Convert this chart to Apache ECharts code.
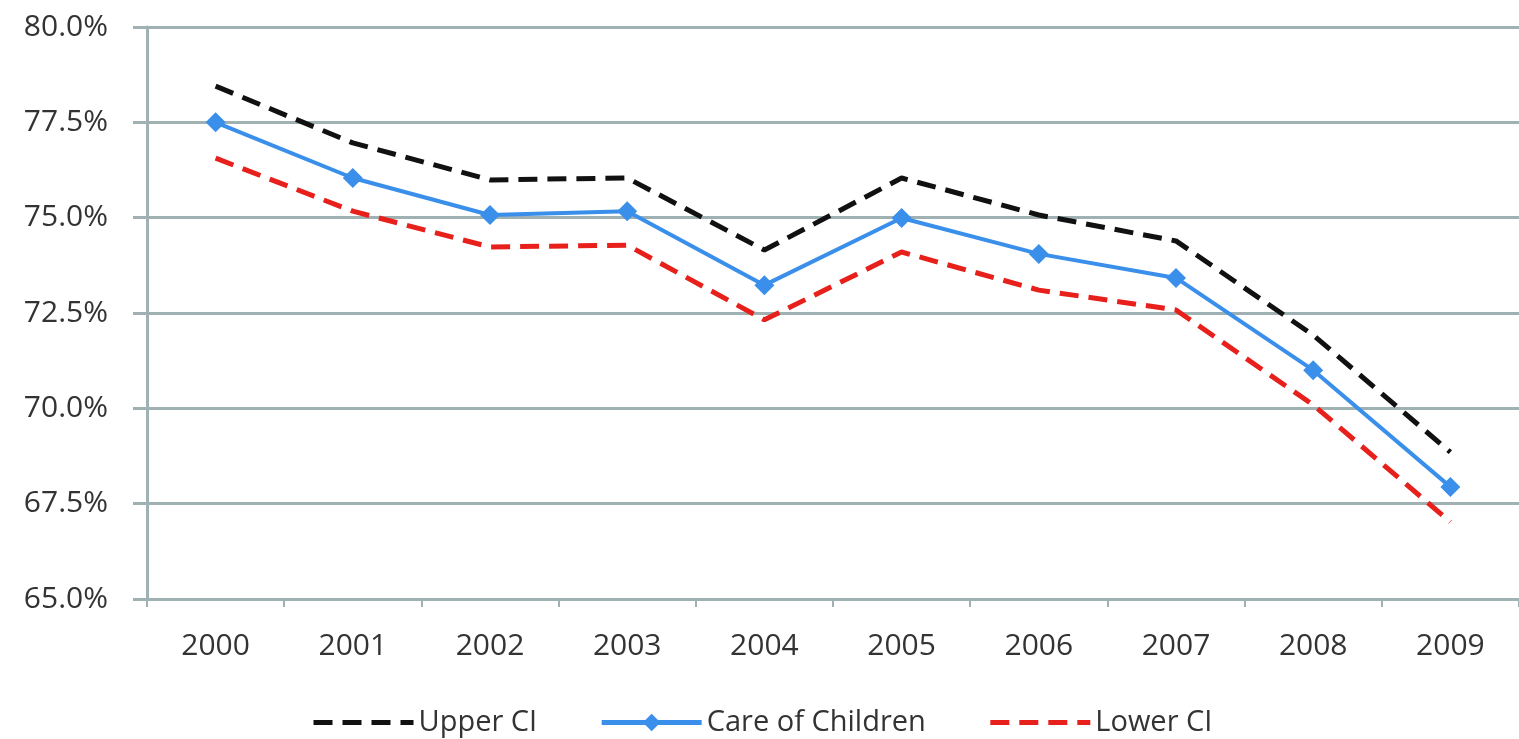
<!DOCTYPE html>
<html>
<head>
<meta charset="utf-8">
<script src="https://cdn.jsdelivr.net/npm/echarts@6/dist/echarts.min.js"></script>
<style>
html,body{margin:0;padding:0;background:#fff;}
#c{width:1519px;height:739px;}
</style>
</head>
<body>
<div id="c"></div>
<script>
const years = ['2000','2001','2002','2003','2004','2005','2006','2007','2008','2009'];
const upperCI = [78.45, 76.96, 75.99, 76.04, 74.15, 76.04, 75.07, 74.39, 71.92, 68.85];
const careOfChildren = [77.5, 76.04, 75.07, 75.17, 73.23, 74.99, 74.05, 73.42, 71.0, 67.94];
const lowerCI = [76.56, 75.17, 74.23, 74.28, 72.32, 74.1, 73.1, 72.58, 70.09, 67.02];

const gridColor = '#9fb1b3';
const fontFam = '"Open Sans", "Liberation Sans", sans-serif';
const chart = echarts.init(document.getElementById('c'));
chart.setOption({
  animation: false,
  backgroundColor: '#ffffff',
  grid: { left: 147, top: 27, width: 1383, bottom: 140, containLabel: false },
  legend: {
    left: 306, top: 703,
    itemWidth: 100, itemHeight: 22, itemGap: 62,
    lineStyle: { width: 5 },
    textStyle: { fontFamily: fontFam, fontSize: 29, color: '#333' },
    data: [
      { name: 'Upper CI', itemStyle: { opacity: 0 } },
      { name: 'Care of Children' },
      { name: 'Lower CI', itemStyle: { opacity: 0 } }
    ]
  },
  xAxis: {
    type: 'category',
    data: years,
    boundaryGap: true,
    axisLine: { show: true, lineStyle: { color: gridColor, width: 3 } },
    axisTick: { show: true, length: 8, lineStyle: { color: gridColor, width: 2 } },
    axisLabel: { margin: 32, fontFamily: fontFam, fontSize: 30, color: '#333' }
  },
  yAxis: {
    type: 'value',
    min: 65, max: 80, interval: 2.5,
    axisLine: { show: true, lineStyle: { color: gridColor, width: 3 } },
    axisTick: { show: true, inside: false, length: 14, lineStyle: { color: gridColor, width: 3 } },
    splitLine: { show: true, lineStyle: { color: gridColor, width: 3 } },
    axisLabel: {
      margin: 39, fontFamily: fontFam, fontSize: 30, color: '#333',
      formatter: v => v.toFixed(1) + '%'
    }
  },
  series: [
    {
      name: 'Upper CI', type: 'line', data: upperCI,
      symbol: 'none',
      lineStyle: { color: '#111111', width: 5, type: [19, 10] },
      itemStyle: { color: '#111111' }
    },
    {
      name: 'Care of Children', type: 'line', data: careOfChildren,
      symbol: 'diamond', symbolSize: 20,
      lineStyle: { color: '#3a8fea', width: 4 },
      itemStyle: { color: '#3a8fea' }
    },
    {
      name: 'Lower CI', type: 'line', data: lowerCI,
      symbol: 'none',
      lineStyle: { color: '#e8201b', width: 5, type: [19, 10] },
      itemStyle: { color: '#e8201b' }
    }
  ]
});
</script>
</body>
</html>
